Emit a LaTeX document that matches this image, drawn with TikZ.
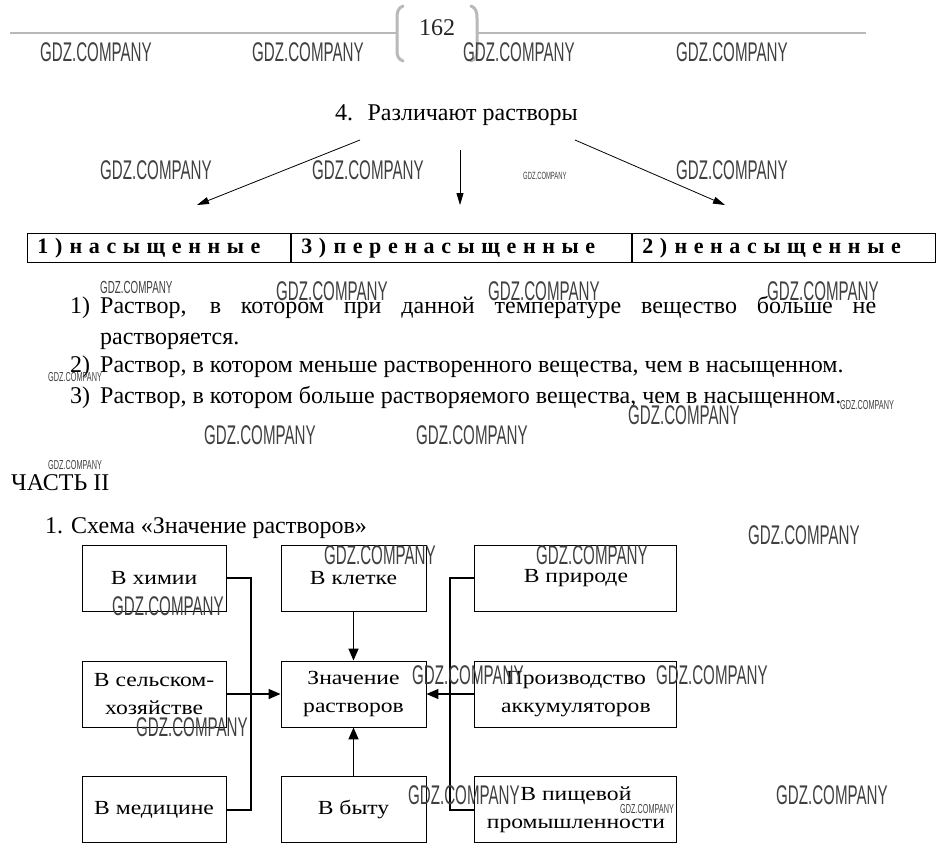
\documentclass[tikz,border=0pt]{standalone}
\usepackage{fontspec}
\setmainfont{Liberation Serif}
\newfontfamily\widefont[FakeStretch=1.18]{Liberation Serif}
\newfontfamily\wmfont[FakeStretch=0.56]{Liberation Sans}
\newfontfamily\spacedfont[LetterSpace=30]{Liberation Serif}
\usetikzlibrary{arrows.meta, positioning}

\begin{document}
\begin{tikzpicture}[
    x=1pt, y=-1pt,
    box/.style  = {draw, line width=0.9pt, minimum width=#1, minimum height=66pt,
                   inner sep=0pt, align=center, font=\widefont\fontsize{20}{28}\selectfont},
    cell/.style = {draw, line width=0.9pt, minimum height=29pt, text width=#1,
                   inner xsep=10pt, inner ysep=0pt, align=left,
                   font=\spacedfont\bfseries\fontsize{22}{24}\selectfont},
    arr/.style  = {-{Triangle[length=12pt, width=10pt]}, line width=1.5pt},
    thin/.style = {-{Triangle[length=12pt, width=7pt]}, line width=0.8pt},
    txt/.style  = {anchor=base west, inner sep=0pt, font=\fontsize{24}{29}\selectfont},
    wm/.style   = {anchor=west, inner sep=0pt, text=black!75,
                   font=\wmfont\fontsize{#1}{#1}\selectfont},
    hdr/.style  = {draw=gray!55, line width=1.5pt},
]
\useasboundingbox (0,0) rectangle (947,864);
\fill[white] (0,0) rectangle (947,864);

% Page header
\draw[hdr] (10,33) -- (397,33);
\draw[hdr] (477,33) -- (866,33);
\draw[hdr, line width=3pt, line cap=round]
    (403,6) .. controls (398,8) and (397,12) .. (397,18) -- (397,50)
    .. controls (397,56) and (398,59) .. (403,61);
\draw[hdr, line width=3pt, line cap=round]
    (471,6) .. controls (476,8) and (477,12) .. (477,18) -- (477,50)
    .. controls (477,56) and (476,59) .. (471,61);
\node[text=black!85, font=\fontsize{24}{24}\selectfont] (page) at (437,28) {162};

% Kinds of solutions
\node[txt] (title) at (335,121) {4.\hspace{0.6em}Различают растворы};
\coordinate (fromL) at (360,140);
\coordinate (toL)   at (197,205);
\coordinate (fromM) at (460,150);
\coordinate (toM)   at (460,205);
\coordinate (fromR) at (575,140);
\coordinate (toR)   at (725,205);
\draw[thin] (fromL) -- (toL);
\draw[thin] (fromM) -- (toM);
\draw[thin] (fromR) -- (toR);

\node[cell=243pt, anchor=north west] (sat) at (27,233) {1) насыщенные};
\node[cell=320pt, right=0pt of sat]  (super) {3) перенасыщенные};
\node[cell=283pt, right=0pt of super] (unsat) {2) ненасыщенные};

% Definitions
\node[txt] (n1)  at (70,313)  {1)};
\node[txt] (l1)  at (100,313) {\makebox[776pt][s]{Раствор, в котором при данной температуре вещество больше не}};
\node[txt] (l1b) at (100,344) {растворяется.};
\node[txt] (n2)  at (70,372)  {2)};
\node[txt] (l2)  at (100,372) {Раствор, в котором меньше растворенного вещества, чем в насыщенном.};
\node[txt] (n3)  at (70,403)  {3)};
\node[txt] (l3)  at (100,403) {Раствор, в котором больше растворяемого вещества, чем в насыщенном.};

\node[txt] (part) at (11,490) {ЧАСТЬ II};
\node[txt] (scheme) at (45,533) {1. Схема «Значение растворов»};

% Scheme (centre, then around it)
\node[box=145pt] (conc) at (353.5,694) {Значение\\растворов};
\node[box=145pt, above=49pt of conc] (incell) {В клетке};
\node[box=145pt, below=49pt of conc] (home)   {В быту};
\node[box=144pt, left=54pt of conc]  (agri)   {В сельском-\\хозяйстве};
\node[box=144pt, above=49pt of agri] (chem)   {В химии};
\node[box=144pt, below=49pt of agri] (med)    {В медицине};
\node[box=202pt, right=48pt of conc] (accu)   {Производство\\аккумуляторов};
\node[box=202pt, above=49pt of accu] (nature) {В природе};
\node[box=202pt, below=49pt of accu] (food)   {В пищевой\\промышленности};

\coordinate (lbus) at (251,0);
\coordinate (rbus) at (450,0);
\draw[line width=1.5pt] (chem.east) -- (chem.east -| lbus) -- (med.east -| lbus) -- (med.east);
\draw[line width=1.5pt] (nature.west) -- (nature.west -| rbus) -- (food.west -| rbus) -- (food.west);
\draw[arr] (agri.east) -- (conc.west);
\draw[arr] (accu.west) -- (conc.east);
\draw[arr] (incell) -- (conc);
\draw[arr] (home) -- (conc);

% Watermarks
\foreach \x/\y/\s [count=\i] in {40/52/27, 252/52/27, 463/52/27, 676/52/27,
        100/170/27, 312/170/27, 676/170/27, 523/176/10.5,
        100/287/17.5, 276/291/27, 488/291/27, 767/291/27,
        48/377/13, 840/405/13, 628/415/27, 204/435/27, 416/435/27,
        48/465/13, 748/535/27, 324/555/27, 536/555/27, 112/606/27,
        412/675/27, 656/675/27, 136/727/27, 408/795/27,
        620/809/13, 776/795/27}
    \node[wm=\s] (wm\i) at (\x,\y) {GDZ.COMPANY};

\end{tikzpicture}
\end{document}
